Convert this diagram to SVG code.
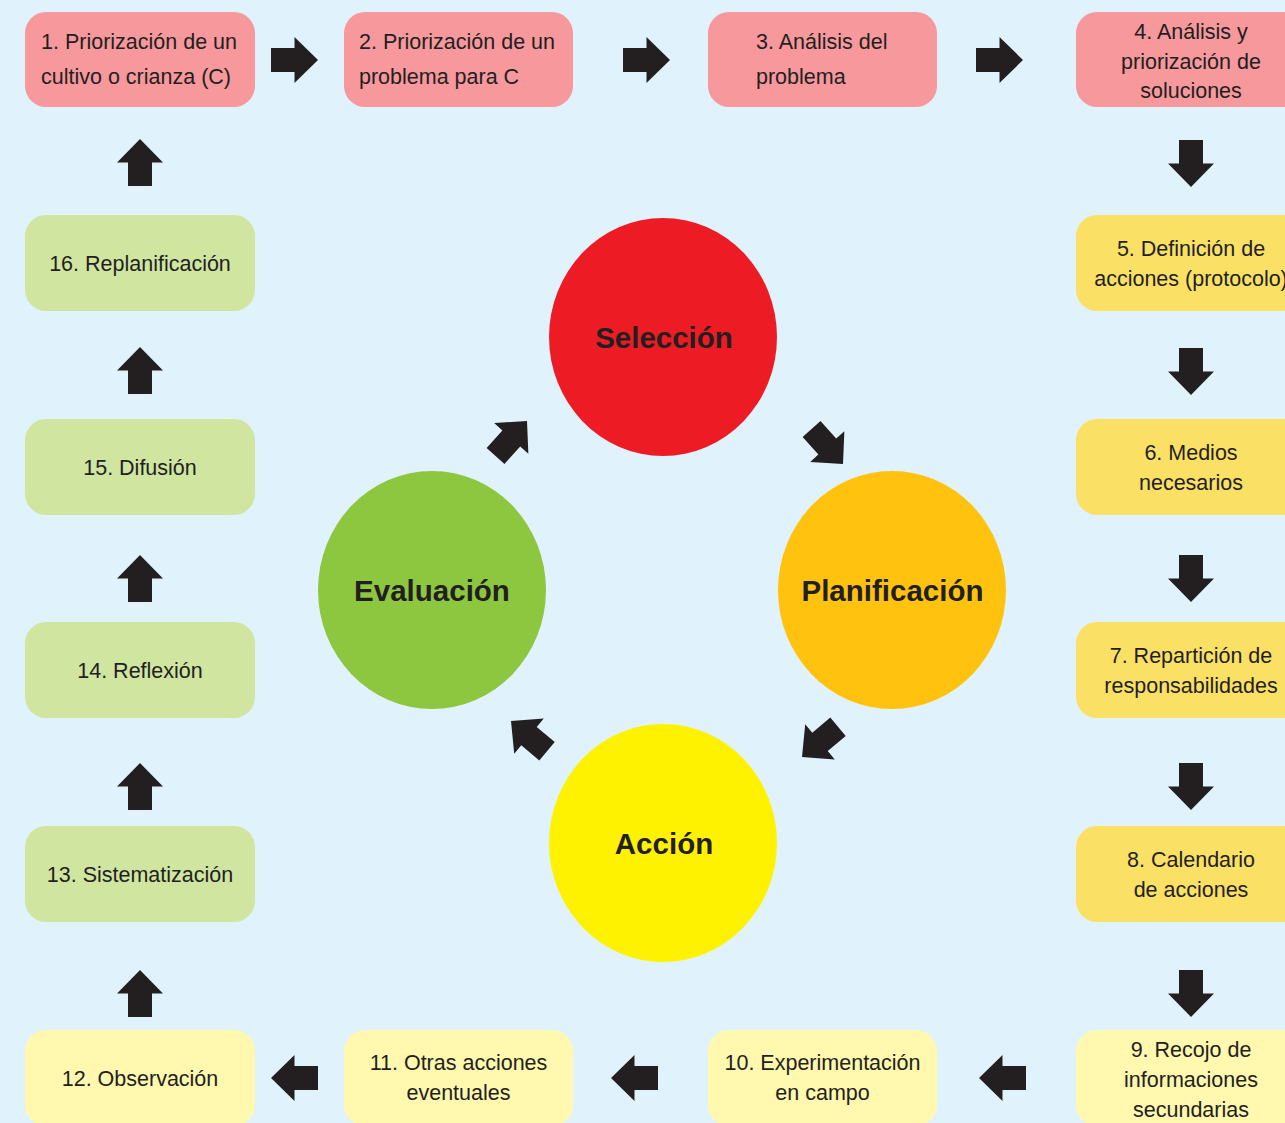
<svg xmlns="http://www.w3.org/2000/svg" xmlns:xlink="http://www.w3.org/1999/xlink" width="1285" height="1123" viewBox="0 0 1285 1123">
<style>
.t{font-family:"Liberation Sans",Arial,sans-serif;font-size:21.5px;fill:#231F20}
.c{text-anchor:middle}
.b{font-family:"Liberation Sans",Arial,sans-serif;font-size:29.5px;font-weight:bold;fill:#231F20;text-anchor:middle}
.pink{fill:#F7989D}
.green{fill:#CFE5A0}
.yel{fill:#FBE066}
.lyel{fill:#FFF8AE}
.arr{fill:#231F20}
</style>
<defs>
<path id="ar" d="M0,0 L-23.5,-23 L-23.5,-12 L-47,-12 L-47,12 L-23.5,12 L-23.5,23 Z"/>
</defs>
<rect width="1285" height="1123" fill="#E0F3FC"/>
<g id="connectors" class="arr">
<use xlink:href="#ar" transform="translate(318,60)"/>
<use xlink:href="#ar" transform="translate(670,60)"/>
<use xlink:href="#ar" transform="translate(1023,60)"/>
<use xlink:href="#ar" transform="translate(1191,187) rotate(90)"/>
<use xlink:href="#ar" transform="translate(1191,395) rotate(90)"/>
<use xlink:href="#ar" transform="translate(1191,602) rotate(90)"/>
<use xlink:href="#ar" transform="translate(1191,810) rotate(90)"/>
<use xlink:href="#ar" transform="translate(1191,1017) rotate(90)"/>
<use xlink:href="#ar" transform="translate(979,1078) rotate(180)"/>
<use xlink:href="#ar" transform="translate(611,1078) rotate(180)"/>
<use xlink:href="#ar" transform="translate(271,1078) rotate(180)"/>
<use xlink:href="#ar" transform="translate(140,970) rotate(-90)"/>
<use xlink:href="#ar" transform="translate(140,763) rotate(-90)"/>
<use xlink:href="#ar" transform="translate(140,555) rotate(-90)"/>
<use xlink:href="#ar" transform="translate(140,347) rotate(-90)"/>
<use xlink:href="#ar" transform="translate(140,139) rotate(-90)"/>
<use xlink:href="#ar" transform="translate(527,421) rotate(-48)"/>
<use xlink:href="#ar" transform="translate(843,464) rotate(48)"/>
<use xlink:href="#ar" transform="translate(802,757) rotate(140)"/>
<use xlink:href="#ar" transform="translate(511,721) rotate(220)"/>
</g>
<g id="n1"><rect class="pink" x="25" y="12" width="230" height="95" rx="21"/><text class="t" x="41" y="48.5">1. Priorización de un</text><text class="t" x="41" y="84">cultivo o crianza (C)</text></g>
<g id="n2"><rect class="pink" x="344" y="12" width="229" height="95" rx="21"/><text class="t" x="359" y="48.5">2. Priorización de un</text><text class="t" x="359" y="84">problema para C</text></g>
<g id="n3"><rect class="pink" x="708" y="12" width="229" height="95" rx="21"/><text class="t" x="756" y="48.5">3. Análisis del</text><text class="t" x="756" y="84">problema</text></g>
<g id="n4"><rect class="pink" x="1076" y="12" width="230" height="95" rx="21"/><text class="t c" x="1191" y="38.5">4. Análisis y</text><text class="t c" x="1191" y="68.5">priorización de</text><text class="t c" x="1191" y="98">soluciones</text></g>
<g id="n5"><rect class="yel" x="1076" y="215" width="230" height="96" rx="21"/><text class="t c" x="1191" y="255.5">5. Definición de</text><text class="t c" x="1191" y="285.5">acciones (protocolo)</text></g>
<g id="n6"><rect class="yel" x="1076" y="419" width="230" height="96" rx="21"/><text class="t c" x="1191" y="459.5">6. Medios</text><text class="t c" x="1191" y="489.5">necesarios</text></g>
<g id="n7"><rect class="yel" x="1076" y="622" width="230" height="96" rx="21"/><text class="t c" x="1191" y="662.5">7. Repartición de</text><text class="t c" x="1191" y="692.5">responsabilidades</text></g>
<g id="n8"><rect class="yel" x="1076" y="826" width="230" height="96" rx="21"/><text class="t c" x="1191" y="866.5">8. Calendario</text><text class="t c" x="1191" y="896.5">de acciones</text></g>
<g id="n9"><rect class="lyel" x="1076" y="1030" width="230" height="96" rx="21"/><text class="t c" x="1191" y="1057">9. Recojo de</text><text class="t c" x="1191" y="1087">informaciones</text><text class="t c" x="1191" y="1117">secundarias</text></g>
<g id="n10"><rect class="lyel" x="708" y="1030" width="229" height="96" rx="21"/><text class="t c" x="822.5" y="1070">10. Experimentación</text><text class="t c" x="822.5" y="1100">en campo</text></g>
<g id="n11"><rect class="lyel" x="344" y="1030" width="229" height="96" rx="21"/><text class="t c" x="458.5" y="1070">11. Otras acciones</text><text class="t c" x="458.5" y="1100">eventuales</text></g>
<g id="n12"><rect class="lyel" x="25" y="1030" width="230" height="96" rx="21"/><text class="t c" x="140" y="1085.5">12. Observación</text></g>
<g id="n13"><rect class="green" x="25" y="826" width="230" height="96" rx="21"/><text class="t c" x="140" y="882">13. Sistematización</text></g>
<g id="n14"><rect class="green" x="25" y="622" width="230" height="96" rx="21"/><text class="t c" x="140" y="678">14. Reflexión</text></g>
<g id="n15"><rect class="green" x="25" y="419" width="230" height="96" rx="21"/><text class="t c" x="140" y="475">15. Difusión</text></g>
<g id="n16"><rect class="green" x="25" y="215" width="230" height="96" rx="21"/><text class="t c" x="140" y="271">16. Replanificación</text></g>
<g id="seleccion"><ellipse cx="663" cy="337" rx="114" ry="119" fill="#ED1C24"/><text class="b" x="664" y="348">Selección</text></g>
<g id="planificacion"><ellipse cx="892" cy="590" rx="114" ry="119" fill="#FFC20E"/><text class="b" x="892.5" y="601">Planificación</text></g>
<g id="accion"><ellipse cx="663" cy="843" rx="114" ry="119" fill="#FFF200"/><text class="b" x="664" y="854">Acción</text></g>
<g id="evaluacion"><ellipse cx="432" cy="590" rx="114" ry="119" fill="#8DC63F"/><text class="b" x="432" y="601">Evaluación</text></g>
</svg>
